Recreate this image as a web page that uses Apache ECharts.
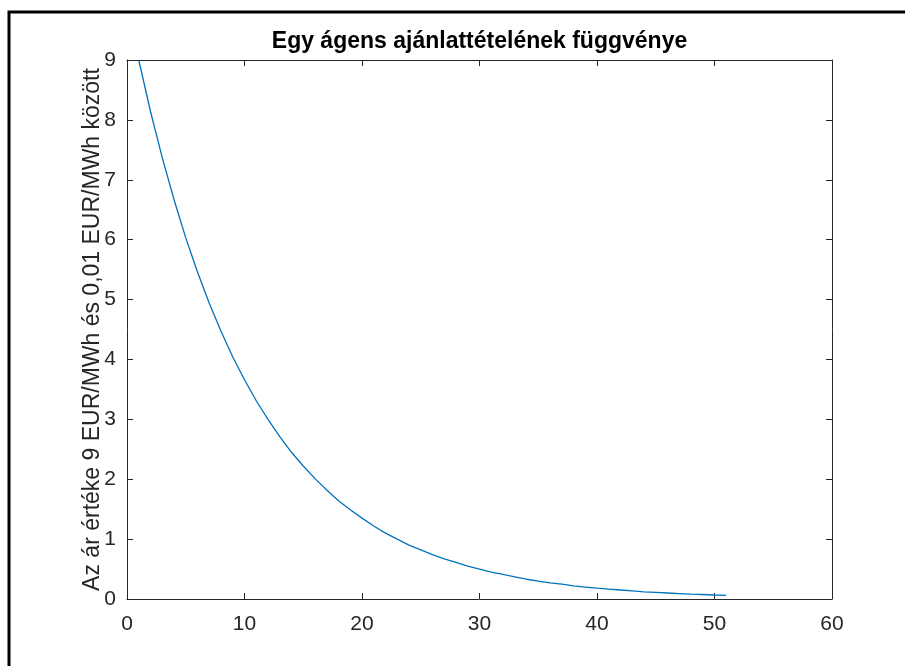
<!DOCTYPE html>
<html>
<head>
<meta charset="utf-8">
<script src="https://cdn.jsdelivr.net/npm/echarts@6/dist/echarts.min.js"></script>
<style>html,body{margin:0;padding:0;background:#fff}#c{width:905px;height:666px}</style>
</head>
<body>
<div id="c"></div>
<script>
const titleText = 'Egy ágens ajánlattételének függvénye';
const yName = 'Az ár értéke 9 EUR/MWh és 0,01 EUR/MWh között';
const xTicks = [0, 10, 20, 30, 40, 50, 60];
const yTicks = [0, 1, 2, 3, 4, 5, 6, 7, 8, 9];
const xs = [1,2,3,4,5,6,7,8,9,10,11,12,13,14,15,16,17,18,19,20,21,22,23,24,25,26,27,28,29,30,31,32,33,34,35,36,37,38,39,40,41,42,43,44,45,46,47,48,49,50,51];
const ys = [9.00,8.14,7.37,6.67,6.03,5.46,4.94,4.47,4.04,3.66,3.31,3.00,2.71,2.45,2.22,2.01,1.82,1.64,1.49,1.35,1.22,1.10,1.00,0.90,0.82,0.74,0.67,0.61,0.55,0.50,0.45,0.41,0.37,0.33,0.30,0.27,0.25,0.22,0.20,0.18,0.165,0.15,0.135,0.12,0.11,0.10,0.09,0.08,0.075,0.067,0.06];

const axisColor = '#262626';
const font = 'Liberation Sans, Arial, sans-serif';
const chart = echarts.init(document.getElementById('c'), null, {renderer: 'canvas'});
const data = xs.map((x, i) => [x, ys[i]]);
const baseAxis = {
  axisLine: {show: true, onZero: false, lineStyle: {color: axisColor, width: 1}},
  axisTick: {show: true, inside: true, length: 6, lineStyle: {color: axisColor, width: 1}},
  splitLine: {show: false}
};
chart.setOption({
  animation: false,
  backgroundColor: '#fff',
  grid: {left: 127, top: 60, right: 73, bottom: 67, containLabel: false},
  xAxis: [
    Object.assign({}, baseAxis, {
      type: 'value', position: 'bottom', min: xTicks[0], max: xTicks[xTicks.length - 1], interval: 10,
      axisLabel: {color: axisColor, fontSize: 21, fontFamily: font, margin: 15}
    }),
    Object.assign({}, baseAxis, {
      type: 'value', position: 'top', min: xTicks[0], max: xTicks[xTicks.length - 1], interval: 10,
      axisLabel: {show: false}
    })
  ],
  yAxis: [
    Object.assign({}, baseAxis, {
      type: 'value', position: 'left', min: yTicks[0], max: yTicks[yTicks.length - 1], interval: 1,
      axisLabel: {color: axisColor, fontSize: 21, fontFamily: font, margin: 11},
      name: yName, nameLocation: 'middle', nameGap: 23, nameMoveOverlap: false,
      nameTextStyle: {color: axisColor, fontSize: 23, fontFamily: font}
    }),
    Object.assign({}, baseAxis, {
      type: 'value', position: 'right', min: yTicks[0], max: yTicks[yTicks.length - 1], interval: 1,
      axisLabel: {show: false}
    })
  ],
  series: [{
    type: 'line', xAxisIndex: 0, yAxisIndex: 0, data: data, showSymbol: false, smooth: false,
    lineStyle: {color: '#0072BD', width: 1.3}, silent: true
  }],
  graphic: [
    {type: 'rect', shape: {x: 9, y: 12, width: 1000, height: 1000}, style: {fill: 'none', stroke: '#000', lineWidth: 3}, silent: true},
    {type: 'text', x: 479.5, y: 42, style: {text: titleText, fill: '#000', font: 'bold 23px ' + font, textAlign: 'center', textVerticalAlign: 'middle'}}
  ]
});
</script>
</body>
</html>
